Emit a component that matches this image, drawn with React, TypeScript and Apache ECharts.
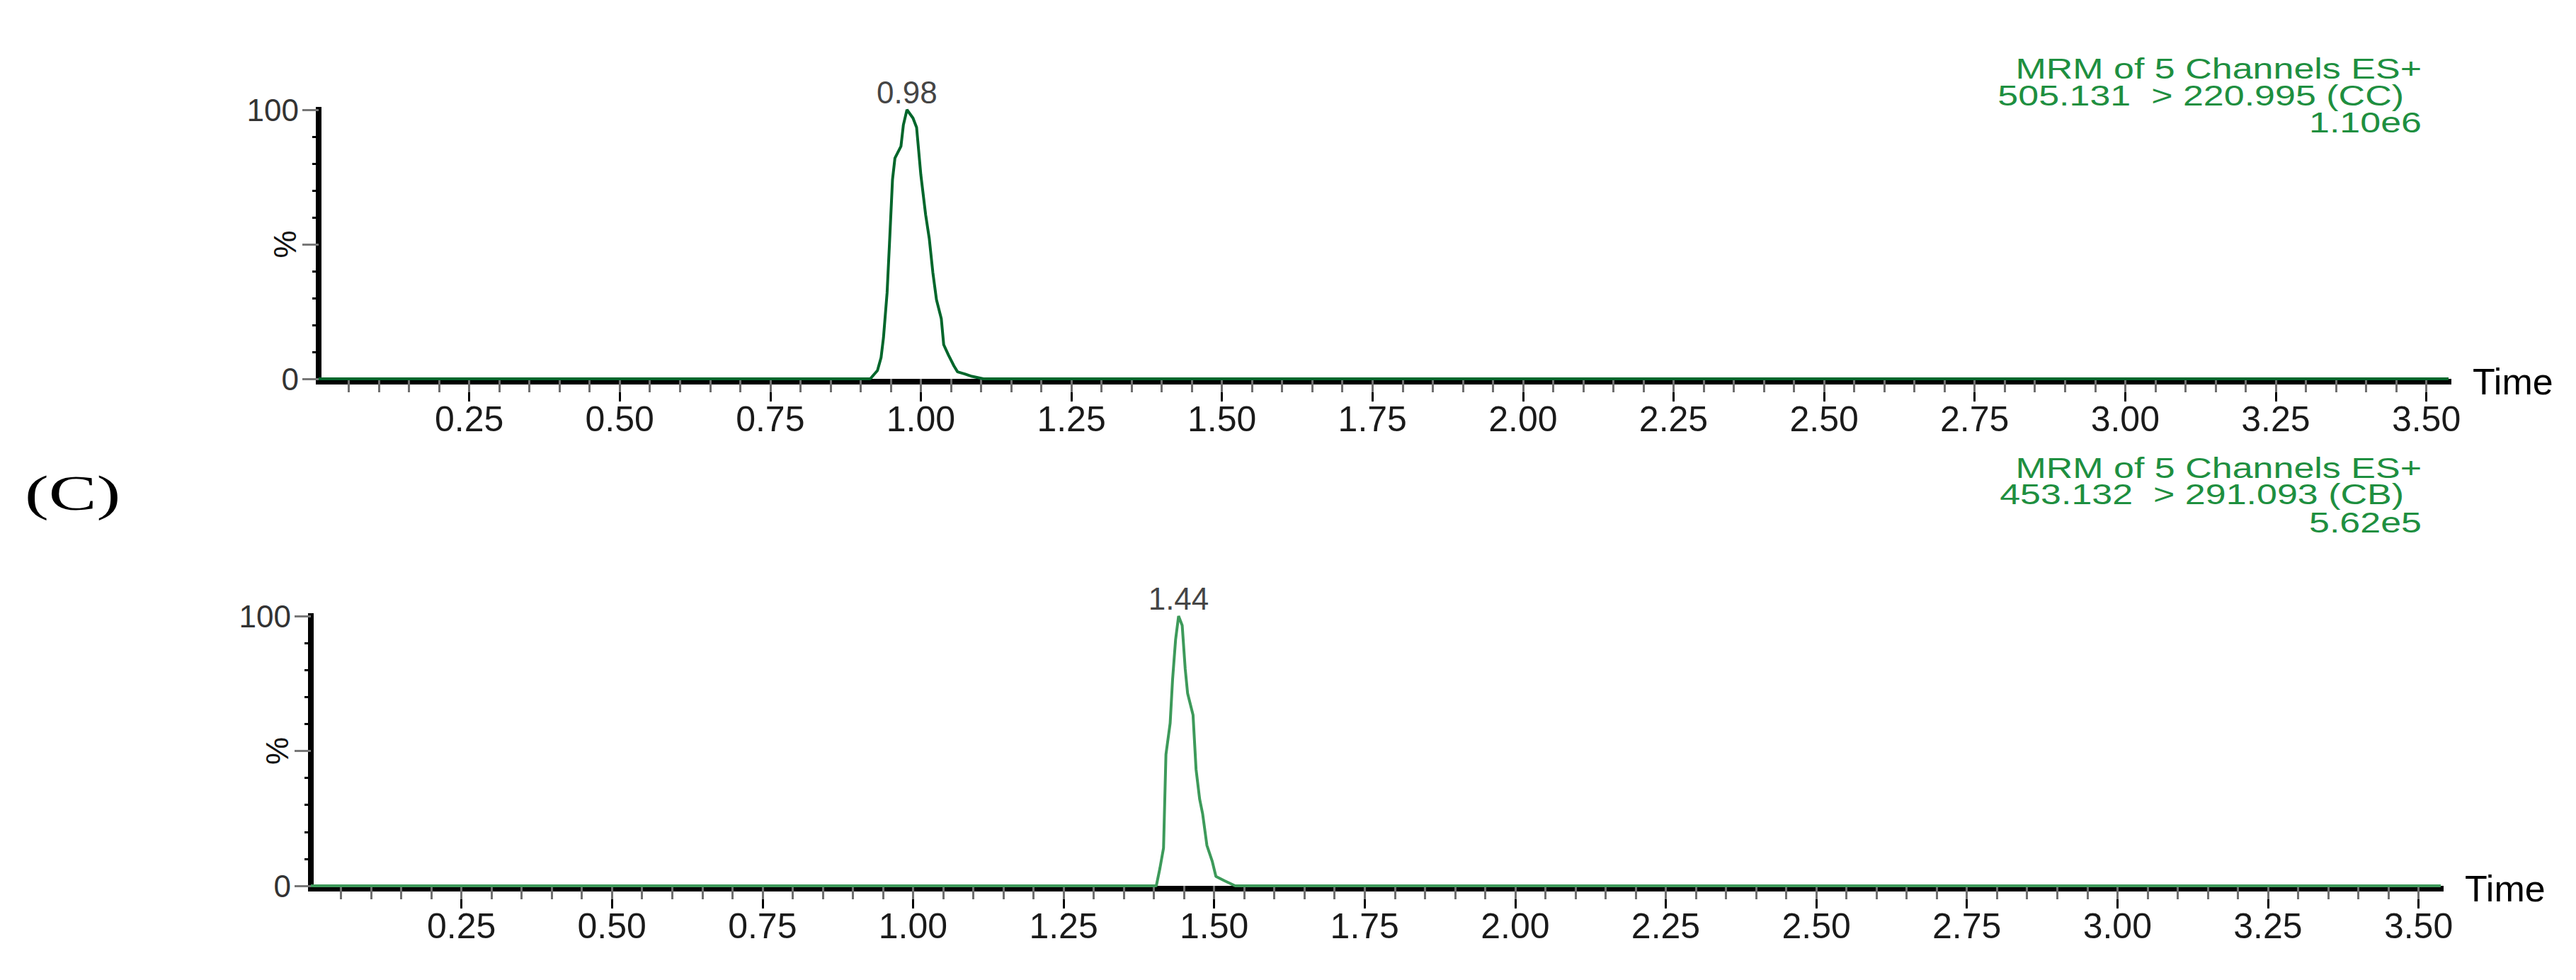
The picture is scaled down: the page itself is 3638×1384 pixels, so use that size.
import React, { useEffect, useRef } from "react";
import * as echarts from "echarts";

// ---------- data ----------
const xMax = 3.537;
const majorTicks = [0.25, 0.5, 0.75, 1.0, 1.25, 1.5, 1.75, 2.0, 2.25, 2.5, 2.75, 3.0, 3.25, 3.5];
const minorTicks: number[] = [];
for (let i = 1; i <= 70; i++) minorTicks.push(Math.round(i * 5) / 100);

const topTimes = [0, 0.916, 0.928, 0.934, 0.938, 0.944, 0.948, 0.953, 0.957, 0.967, 0.971, 0.977, 0.987, 0.993, 1.0, 1.008, 1.014, 1.02, 1.026, 1.034, 1.038, 1.046, 1.055, 1.061, 1.073, 1.085, 1.104, 3.537];
const topValues = [0, 0, 3.1, 7.9, 15.3, 32, 50.4, 74.1, 82, 86.4, 94.3, 100, 96.9, 93.4, 75.9, 61, 52.2, 39.5, 29.4, 22.4, 12.7, 8.8, 4.8, 2.6, 1.8, 0.9, 0, 0];
const topPeak = { time: 0.977, value: 100, label: "0.98" };
const topHeader = ["MRM of 5 Channels ES+", "505.131  > 220.995 (CC)", "1.10e6"];

const bottomTimes = [0, 1.404, 1.41, 1.416, 1.42, 1.427, 1.431, 1.436, 1.441, 1.447, 1.452, 1.456, 1.465, 1.47, 1.476, 1.481, 1.488, 1.497, 1.503, 1.517, 1.535, 3.537];
const bottomValues = [0, 0, 6.5, 14, 48.7, 60.3, 76.4, 91.2, 100, 96.5, 80.4, 71.3, 63.3, 43.2, 32.1, 26.6, 15, 9, 3.5, 1.9, 0, 0];
const bottomPeak = { time: 1.441, value: 100, label: "1.44" };
const bottomHeader = ["MRM of 5 Channels ES+", "453.132  > 291.093 (CB)", "5.62e5"];

const panelLabel = "(C)";
const yLabelMap: Record<number, string> = { 0: "0", 100: "100" };

const SANS = "'Liberation Sans', Arial, sans-serif";
const SERIF = "'Liberation Serif', 'Times New Roman', serif";

function xAxesFor(gridIndex: number) {
  return [
    {
      gridIndex,
      type: "value",
      min: 0,
      max: xMax,
      position: "bottom",
      offset: 4,
      axisLine: { show: true, onZero: false, lineStyle: { color: "#000", width: 8, cap: "square" } },
      axisTick: { show: true, customValues: majorTicks, length: 28, lineStyle: { color: "#000", width: 3 } },
      axisLabel: {
        show: true,
        customValues: majorTicks,
        formatter: (v: number) => v.toFixed(2),
        margin: 28,
        fontSize: 50,
        fontFamily: SANS,
        color: "#1a1a1a",
      },
      splitLine: { show: false },
      name: "Time",
      nameLocation: "end",
      nameGap: 34,
      nameTextStyle: { fontSize: 52, fontFamily: SANS, color: "#000" },
    },
    {
      gridIndex,
      type: "value",
      min: 0,
      max: xMax,
      position: "bottom",
      offset: 4,
      axisLine: { show: false },
      axisTick: { show: true, customValues: minorTicks, length: 19, lineStyle: { color: "#6e6e6e", width: 3 } },
      axisLabel: { show: false },
      splitLine: { show: false },
    },
  ];
}

function yAxisFor(gridIndex: number) {
  return {
    gridIndex,
    type: "value",
    min: 0,
    max: 100,
    interval: 50,
    position: "left",
    axisLine: { show: true, lineStyle: { color: "#000", width: 8, cap: "square" } },
    axisTick: { show: true, length: 23, lineStyle: { color: "#777", width: 3 } },
    minorTick: { show: true, splitNumber: 5, length: 9, lineStyle: { color: "#000", width: 3 } },
    axisLabel: {
      formatter: (v: number) => yLabelMap[v] ?? "",
      margin: 28,
      fontSize: 44,
      fontFamily: SANS,
      color: "#333",
    },
    splitLine: { show: false },
    name: "%",
    nameLocation: "middle",
    nameRotate: 90,
    nameGap: 26,
    nameMoveOverlap: false,
    nameTextStyle: { fontSize: 44, fontFamily: SANS, color: "#111" },
  };
}

function lineSeries(xi: number, yi: number, times: number[], values: number[], color: string) {
  return {
    type: "line",
    xAxisIndex: xi,
    yAxisIndex: yi,
    data: times.map((t, i) => [t, values[i]]),
    symbol: "none",
    lineStyle: { color, width: 4 },
    z: 5,
  };
}

function peakSeries(xi: number, yi: number, peak: { time: number; value: number; label: string }) {
  return {
    type: "scatter",
    xAxisIndex: xi,
    yAxisIndex: yi,
    data: [[peak.time, peak.value]],
    symbolSize: 1,
    itemStyle: { color: "rgba(0,0,0,0)" },
    label: {
      show: true,
      position: "top",
      distance: 2,
      formatter: () => peak.label,
      fontSize: 44,
      fontFamily: SANS,
      color: "#111",
    },
    z: 6,
  };
}

function headerTexts(lines: string[], ys: number[], rights: number[]) {
  return lines.map((t, i) => ({
    type: "text",
    x: rights[i],
    y: ys[i],
    scaleX: 1.3,
    style: {
      text: t,
      fontSize: 40,
      fontFamily: SANS,
      fill: "#1e8f40",
      align: "right",
      verticalAlign: "middle",
    },
  }));
}

export default function App() {
  const ref = useRef<HTMLDivElement>(null);
  useEffect(() => {
    if (!ref.current) return;
    const chart = echarts.init(ref.current, undefined, { renderer: "svg" });
    chart.setOption({
      animation: false,
      backgroundColor: "#ffffff",
      grid: [
        { left: 450, top: 155, width: 3008, height: 380, outerBoundsMode: "none" },
        { left: 439, top: 870, width: 3008, height: 381, outerBoundsMode: "none" },
      ],
      xAxis: [...xAxesFor(0), ...xAxesFor(1)],
      yAxis: [yAxisFor(0), yAxisFor(1)],
      series: [
        lineSeries(0, 0, topTimes, topValues, "#00662b"),
        peakSeries(0, 0, topPeak),
        lineSeries(2, 1, bottomTimes, bottomValues, "#3d9a5a"),
        peakSeries(2, 1, bottomPeak),
      ],
      graphic: [
        ...headerTexts(topHeader, [97, 135, 173], [3420, 3395, 3420]),
        ...headerTexts(bottomHeader, [661, 698, 738], [3420, 3395, 3420]),
        {
          type: "text",
          x: 35,
          y: 696,
          scaleX: 1.45,
          style: { text: panelLabel, fontSize: 70, fontFamily: SERIF, fill: "#000", align: "left", verticalAlign: "middle" },
        },
      ],
    });
    return () => chart.dispose();
  }, []);
  return (
    <div
      ref={ref}
      style={{ position: "absolute", left: 0, top: 0, width: 3638, height: 1384, background: "#fff" }}
    />
  );
}
